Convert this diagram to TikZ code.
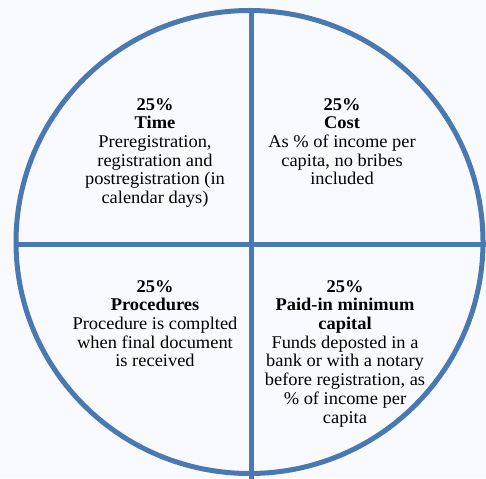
\documentclass[tikz,border=0pt]{standalone}
\usepackage{fontspec}
\setmainfont{Liberation Serif}[FakeStretch=1.03]
\definecolor{bgc}{RGB}{248,250,253}
\definecolor{ringc}{RGB}{74,120,176}
\tikzset{
  quad/.style={anchor=north, inner sep=0pt, align=center, font=\fontsize{17.9}{18.7}\selectfont},
  ring/.style={draw=ringc, line width=5pt},
}
\begin{document}
\begin{tikzpicture}[x=1pt,y=-1pt]
\useasboundingbox (0,0) rectangle (486,478);
\fill[bgc] (0,0) rectangle (486,478);
\begin{scope}
\clip (0,0) rectangle (486,478);
\draw[ring] (249.5,242) ellipse [x radius=233.5, y radius=231.5];
\coordinate (vt) at (251,10);
\coordinate (vb) at (251,480);
\coordinate (hl) at (16,244);
\coordinate (hr) at (490,244);
\draw[ring] (vt) -- (vb);
\draw[ring] (hl) -- (hr);
\end{scope}
\node[quad] (tl) at (155,98) {\textbf{25\%}\\\textbf{Time}\\Preregistration,\\registration and\\postregistration (in\\calendar days)};
\node[quad] (tr) at (342,98) {\textbf{25\%}\\\textbf{Cost}\\As \% of income per\\capita, no bribes\\included};
\node[quad] (bl) at (155,280) {\textbf{25\%}\\\textbf{Procedures}\\Procedure is complted\\when final document\\is received};
\node[quad] (br) at (345,280) {\textbf{25\%}\\\textbf{Paid-in minimum}\\\textbf{capital}\\Funds deposted in a\\bank or with a notary\\before registration, as\\\% of income per\\capita};
\end{tikzpicture}
\end{document}
